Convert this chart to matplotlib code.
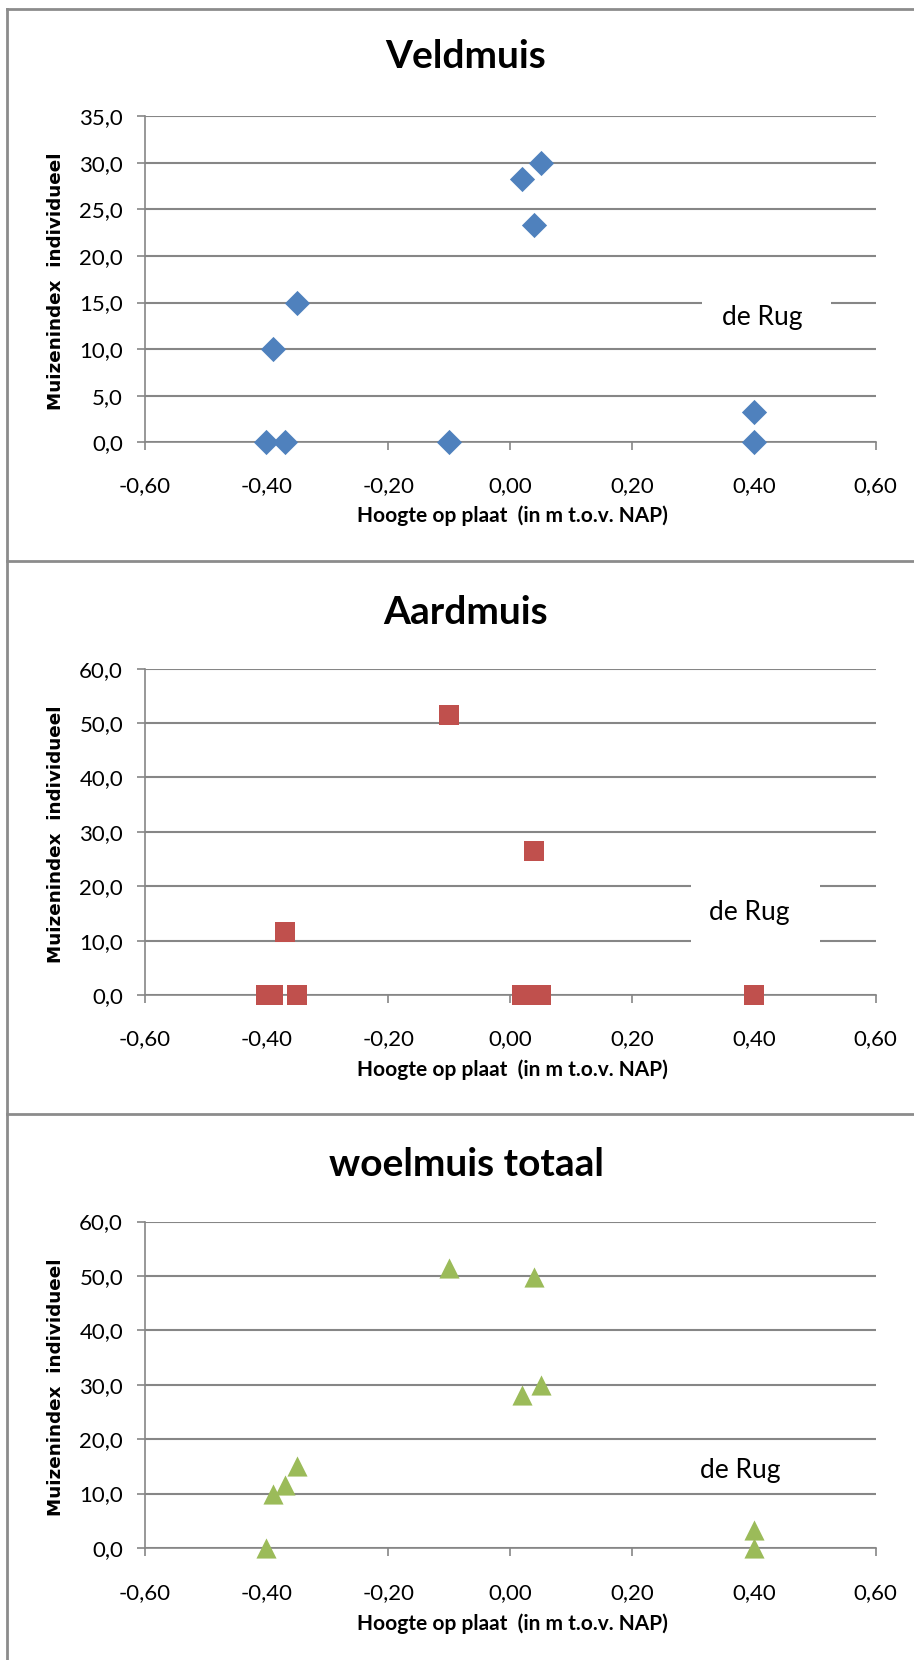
import matplotlib.pyplot as plt
from matplotlib.lines import Line2D
from matplotlib.ticker import FixedLocator

# data (hoogte in m t.o.v. NAP, muizenindex)
hoogte = [-0.40, -0.39, -0.37, -0.35, -0.10, 0.02, 0.04, 0.05, 0.40, 0.40]
veldmuis = [0.0, 10.0, 0.0, 15.0, 0.0, 28.2, 23.3, 30.0, 0.0, 3.3]
aardmuis = [0.0, 0.0, 11.5, 0.0, 51.5, 0.0, 26.5, 0.0, 0.0, 0.0]
totaal = [0.0, 10.0, 11.5, 15.0, 51.5, 28.2, 49.8, 30.0, 0.0, 3.3]

x_ticks = [-0.6, -0.4, -0.2, 0.0, 0.2, 0.4, 0.6]
veld_ticks = [0, 5, 10, 15, 20, 25, 30, 35]
aard_ticks = [0, 10, 20, 30, 40, 50, 60]

W, H = 914, 1660
GRID = '#868686'
FONT = 'Lato'

fig = plt.figure(figsize=(W / 100, H / 100), dpi=100)


def px_axes(left, top, right, bottom):
    return fig.add_axes([left / W, 1 - bottom / H, (right - left) / W, (bottom - top) / H])


def panel(top, bottom, title, title_y, y, yticks, marker, color, msize, rug, rug_box, xlab_y, ticklab_y):
    ax = px_axes(144.6, top, 875.6, bottom)
    ax.scatter(hoogte, y, marker=marker, s=msize, color=color, zorder=3, linewidths=0, clip_on=False)
    ax.set_xlim(-0.6, 0.6)
    ax.set_ylim(yticks[0], yticks[-1])
    ax.xaxis.set_major_locator(FixedLocator(x_ticks))
    ax.yaxis.set_major_locator(FixedLocator(yticks))
    ax.set_xticklabels([f'{v:.2f}'.replace('.', ',') for v in x_ticks], fontsize=16, family=FONT)
    ax.set_yticklabels([f'{v:.1f}'.replace('.', ',') for v in yticks], fontsize=16, family=FONT)
    ax.grid(axis='y', color=GRID, lw=1.5, zorder=0)
    for s in ['top', 'right']:
        ax.spines[s].set_visible(False)
    for s in ['left', 'bottom']:
        ax.spines[s].set_color(GRID)
        ax.spines[s].set_linewidth(1.2)
    ax.tick_params(axis='both', direction='out', length=5.5, color=GRID, width=1.2)
    ax.tick_params(axis='x', pad=(ticklab_y - bottom) - 16)
    ax.tick_params(axis='y', pad=10)
    fig.text(466 / W, 1 - title_y / H, title, ha='center', va='center',
             fontsize=28, fontweight='bold', family=FONT)
    fig.text(512 / W, 1 - xlab_y / H, 'Hoogte op plaat  (in m t.o.v. NAP)', ha='center', va='center',
             fontsize=15, fontweight='bold', family=FONT)
    fig.text(56 / W, 1 - ((top + bottom) / 2 + 2) / H, 'Muizenindex  individueel', ha='center', va='center',
             rotation=90, fontsize=13.2, fontweight='bold', family='DejaVu Sans')
    if rug_box:
        bx0, by0, bx1, by1 = rug_box
        fig.patches.append(plt.Rectangle((bx0 / W, 1 - by1 / H), (bx1 - bx0) / W, (by1 - by0) / H,
                                         transform=fig.transFigure, facecolor='white',
                                         edgecolor='none', zorder=5))
    fig.text(rug[0] / W, 1 - rug[1] / H, 'de Rug', ha='center', va='center',
             fontsize=19, family=FONT, zorder=6)
    return ax


panel(116, 442.5, 'Veldmuis', 57, veldmuis, veld_ticks, 'D', '#4F81BD', 165,
      (762, 318), (702, 290, 831, 345), 516, 477)
panel(668.6, 995, 'Aardmuis', 612, aardmuis, aard_ticks, 's', '#C0504D', 190,
      (749, 912), (691, 870, 820, 960), 1070, 1030)
panel(1221.5, 1548, 'woelmuis totaal', 1164, totaal, aard_ticks, '^', '#9BBB59', 210,
      (740, 1470), None, 1624, 1583.5)

# chart borders
for yb in [9, 561, 1114]:
    fig.add_artist(Line2D([7 / W, 1], [1 - yb / H] * 2, color='#8c8c8c', lw=2, transform=fig.transFigure))
fig.add_artist(Line2D([7 / W, 7 / W], [0, 1 - 9 / H], color='#8c8c8c', lw=2, transform=fig.transFigure))

fig.savefig('out.png', dpi=100)
